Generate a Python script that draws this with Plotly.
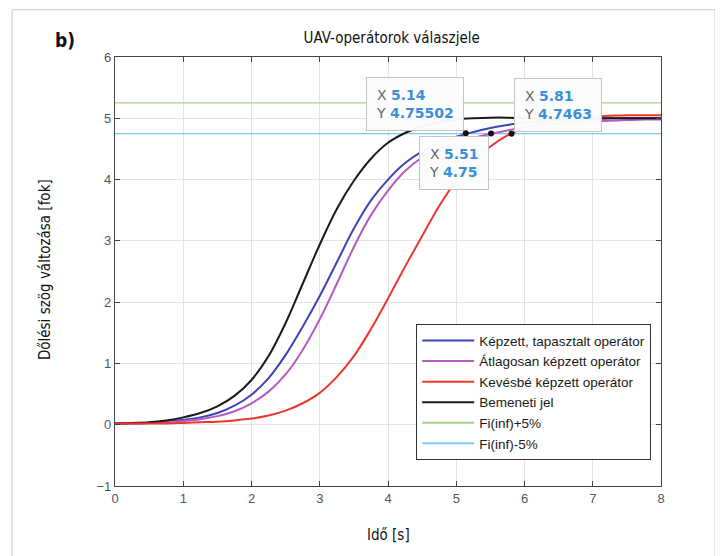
import plotly.graph_objects as go

# ---- data ----
time_s = [0, 0.25, 0.5, 0.75, 1, 1.25, 1.5, 1.75, 2, 2.25, 2.5, 2.75, 3, 3.25,
          3.5, 3.75, 4, 4.25, 4.5, 4.75, 5, 5.25, 5.5, 5.75, 6, 6.25, 6.5,
          6.75, 7, 7.25, 7.5, 7.75, 8]

kepzett = [0.02, 0.02, 0.03, 0.05, 0.08, 0.12, 0.19, 0.31, 0.49, 0.76, 1.14,
           1.60, 2.10, 2.65, 3.20, 3.66, 4.00, 4.27, 4.46, 4.60, 4.70, 4.775,
           4.84, 4.89, 4.93, 4.95, 4.97, 4.98, 4.99, 5.00, 5.00, 5.00, 5.00]
atlagos = [0.02, 0.02, 0.03, 0.04, 0.06, 0.09, 0.14, 0.22, 0.35, 0.54, 0.82,
           1.22, 1.72, 2.30, 2.90, 3.42, 3.82, 4.14, 4.36, 4.50, 4.60, 4.68,
           4.745, 4.80, 4.85, 4.88, 4.91, 4.93, 4.95, 4.96, 4.97, 4.98, 4.98]
kevesbe = [0.02, 0.02, 0.02, 0.02, 0.03, 0.04, 0.05, 0.07, 0.10, 0.15, 0.23,
           0.35, 0.52, 0.78, 1.12, 1.56, 2.06, 2.58, 3.08, 3.57, 3.98, 4.30,
           4.54, 4.72, 4.84, 4.92, 4.97, 5.01, 5.03, 5.04, 5.05, 5.05, 5.05]
bemeneti = [0.02, 0.03, 0.04, 0.07, 0.12, 0.19, 0.30, 0.47, 0.73, 1.12, 1.66,
            2.30, 2.94, 3.52, 3.98, 4.34, 4.60, 4.76, 4.87, 4.94, 4.98, 5.00,
            5.01, 5.01, 5.00, 5.00, 5.00, 5.00, 5.00, 5.00, 5.00, 5.00, 5.00]

band_x = [0, 8]
fi_plus = [5.25, 5.25]
fi_minus = [4.75, 4.75]

tip_x = [5.14, 5.51, 5.81]
tip_y = [4.75502, 4.75, 4.7463]
tip_x_text = ["5.14", "5.51", "5.81"]
tip_y_text = ["4.75502", "4.75", "4.7463"]

series_names = ["Képzett, tapasztalt operátor", "Átlagosan képzett operátor",
                "Kevésbé képzett operátor", "Bemeneti jel",
                "Fi(inf)+5%", "Fi(inf)-5%"]

x_ticks = [0, 1, 2, 3, 4, 5, 6, 7, 8]
y_ticks = [-1, 0, 1, 2, 3, 4, 5, 6]

# ---- styles ----
COND = "DejaVu Sans Condensed, DejaVu Sans, sans-serif"
ARIAL = "Liberation Sans, Arial, sans-serif"
TIPF = "DejaVu Sans, sans-serif"
C_BLUE, C_MAG, C_RED, C_BLK = "#3c44b8", "#b45cc0", "#f0362c", "#1a1a1a"
C_GRN, C_CYN = "#a9d18e", "#7ccbf0"

fig = go.Figure()

fig.add_trace(go.Scatter(x=band_x, y=fi_plus, mode="lines", showlegend=False,
                         line=dict(color=C_GRN, width=1.2)))
fig.add_trace(go.Scatter(x=band_x, y=fi_minus, mode="lines", showlegend=False,
                         line=dict(color=C_CYN, width=1.2)))

fig.add_trace(go.Scatter(x=time_s, y=kepzett, mode="lines", name=series_names[0],
                         line=dict(color=C_BLUE, width=2, shape="spline")))
fig.add_trace(go.Scatter(x=time_s, y=atlagos, mode="lines", name=series_names[1],
                         line=dict(color=C_MAG, width=2, shape="spline")))
fig.add_trace(go.Scatter(x=time_s, y=bemeneti, mode="lines", showlegend=False,
                         line=dict(color=C_BLK, width=2, shape="spline")))
fig.add_trace(go.Scatter(x=time_s, y=kevesbe, mode="lines", name=series_names[2],
                         line=dict(color=C_RED, width=2, shape="spline")))

# legend-only entries to keep the legend order
fig.add_trace(go.Scatter(x=[None], y=[None], mode="lines", name=series_names[3],
                         line=dict(color=C_BLK, width=2)))
fig.add_trace(go.Scatter(x=[None], y=[None], mode="lines", name=series_names[4],
                         line=dict(color=C_GRN, width=2)))
fig.add_trace(go.Scatter(x=[None], y=[None], mode="lines", name=series_names[5],
                         line=dict(color=C_CYN, width=2)))

fig.add_trace(go.Scatter(x=tip_x, y=tip_y, mode="markers", showlegend=False,
                         marker=dict(color="#111", size=6)))

# datatips
anchors = [("right", "bottom", -2, 2), ("right", "top", -2, -2), ("left", "bottom", 2, 2)]
for i in range(3):
    xa, ya, xs, ys = anchors[i]
    txt = ("<span style='color:#666'>X</span> <b style='color:#3b8fd8'>%s</b><br>"
           "<span style='color:#666'>Y</span> <b style='color:#3b8fd8'>%s</b>"
           % (tip_x_text[i], tip_y_text[i]))
    fig.add_annotation(x=tip_x[i], y=tip_y[i], xref="x", yref="y", text=txt,
                       showarrow=False, xanchor=xa, yanchor=ya, xshift=xs, yshift=ys,
                       align="left", bgcolor="rgba(252,252,253,0.97)",
                       bordercolor="#c4c4c4", borderwidth=1, borderpad=9,
                       font=dict(family=TIPF, size=14, color="#3b8fd8"))

# text labels
fig.add_annotation(x=-0.0916, y=1.0396, xref="paper", yref="paper", text="<b>b)</b>",
                   showarrow=False, xanchor="center", yanchor="middle",
                   font=dict(family=COND, size=19, color="#111"))
fig.add_annotation(x=-0.128, y=0.5035, xref="paper", yref="paper",
                   text="Dőlési szög változása [fok]", textangle=-90,
                   showarrow=False, xanchor="center", yanchor="middle",
                   font=dict(family=COND, size=15, color="#111"))
fig.add_annotation(x=0.5, y=-0.114, xref="paper", yref="paper", text="Idő [s]",
                   showarrow=False, xanchor="center", yanchor="middle",
                   font=dict(family=COND, size=15, color="#111"))

# outer border
fig.add_shape(type="rect", xref="paper", yref="paper",
              x0=-0.1886, x1=1.0989, y0=-0.2, y1=1.11,
              line=dict(color="#cccccc", width=1), fillcolor="rgba(0,0,0,0)",
              layer="below")

axis_common = dict(showline=True, mirror="ticks", linecolor="#444", linewidth=1.2,
                   ticks="inside", ticklen=5, tickcolor="#444",
                   showgrid=True, gridcolor="#e4e4e4", gridwidth=1, zeroline=False,
                   tickfont=dict(family=ARIAL, size=13, color="#555"))

fig.update_layout(
    width=715, height=548,
    margin=dict(l=107, r=62, t=49, b=70),
    paper_bgcolor="white", plot_bgcolor="white",
    title=dict(text="UAV-operátorok válaszjele", x=0.5366, xanchor="center",
               y=1 - 30 / 548, yanchor="middle", yref="container",
               font=dict(family=COND, size=15, color="#111")),
    xaxis=dict(range=[0, 8], tickvals=x_ticks, **axis_common),
    yaxis=dict(range=[-1, 6], tickvals=y_ticks, **axis_common),
    legend=dict(x=0.982, y=0.06, xanchor="right", yanchor="bottom",
                bgcolor="white", bordercolor="#333", borderwidth=1,
                font=dict(family=ARIAL, size=13.5, color="#1a1a1a"),
                traceorder="normal", itemwidth=52),
    showlegend=True,
)

fig.write_html("out.html")
